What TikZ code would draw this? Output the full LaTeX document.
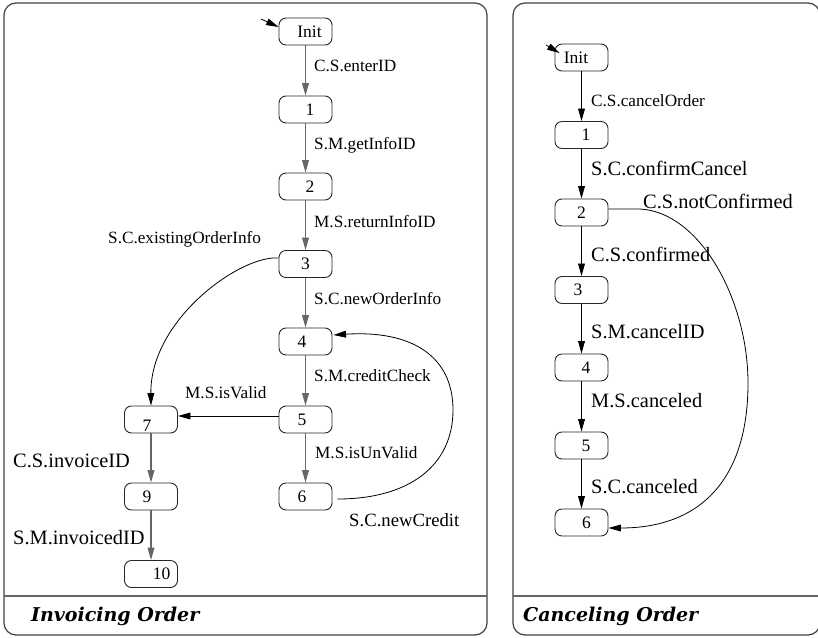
\documentclass[tikz,border=0pt]{standalone}
\usepackage{fontspec}
\setmainfont{Liberation Serif}
\newfontfamily\titlefont{DejaVu Serif}
\usetikzlibrary{arrows.meta,calc}
\newcommand\nt[3]{\makebox[0pt]{\hspace*{#1}\smash{\raisebox{#2}{#3}}}}
\begin{document}
\begin{tikzpicture}[x=1pt,y=-1pt,
  st/.style={draw=black!85, line width=0.9pt, rounded corners=7pt, minimum width=53pt, minimum height=27pt, inner sep=0pt, font=\fontsize{17.5}{18}\selectfont},
  panel/.style={draw=black!75, line width=1.2pt, rounded corners=12pt},
  divider/.style={draw=black!60, line width=1.2pt},
  lab/.style={anchor=base west, inner sep=0pt},
  fa/.style={font=\fontsize{17.2}{20}\selectfont},
  fb/.style={font=\fontsize{20.4}{24}\selectfont},
  fc/.style={font=\fontsize{18.7}{22}\selectfont},
  ttl/.style={anchor=base west, inner sep=0pt, font=\titlefont\bfseries\itshape\fontsize{19}{22}\selectfont},
  tip/.style={-{Triangle[length=12.5pt,width=6.8pt]}},
  garr/.style={tip, draw=black!60, line width=1.2pt},
  barr/.style={tip, draw=black, line width=0.8pt},
  curve/.style={tip, draw=black, line width=0.8pt}
]
\useasboundingbox (0,0) rectangle (818,637);
% panels
\draw[panel] (4,3) rectangle (487,635);
\draw[divider] (4,596) -- (487,596);
\draw[panel] (513,3) rectangle (820,635);
\draw[divider] (513,596) -- (820,596);
\node[ttl] (t1) at (31,621.7) {Invoicing Order};
\node[ttl] (t2) at (523,621.7) {Canceling Order};

% left graph nodes
\node[st] (Li) at (305.5,31.5) {\nt{8pt}{-5.7pt}{Init}};
\node[st] (L1) at (305.5,109.5) {\nt{9pt}{-5.7pt}{1}};
\node[st] (L2) at (305.5,186.5) {\nt{9pt}{-5.7pt}{2}};
\node[st] (L3) at (305.5,264) {\nt{0pt}{-5.7pt}{3}};
\node[st] (L4) at (305.5,341.5) {\nt{-7pt}{-5.7pt}{4}};
\node[st] (L5) at (305.5,419.5) {\nt{-7pt}{-5.7pt}{5}};
\node[st] (L6) at (305.5,496.5) {\nt{-7pt}{-5.7pt}{6}};
\node[st] (L7) at (151,419.5) {\nt{-8pt}{-11.7pt}{7}};
\node[st] (L9) at (151,496.5) {\nt{-8pt}{-5.7pt}{9}};
\node[st] (L10) at (151,574) {\nt{21pt}{-5.7pt}{10}};

\coordinate (Lin) at (261,19);
\draw[barr] (Lin) -- ($(Li.west)+(0,-4.5)$);
\draw[garr] (Li) -- (L1);
\draw[garr] (L1) -- (L2);
\draw[garr] (L2) -- (L3);
\draw[garr] (L3) -- (L4);
\draw[garr] (L4) -- (L5);
\draw[garr] (L5) -- (L6);
\draw[garr] (L7) -- (L9);
\draw[garr] (L9) -- (L10);
\draw[barr] ($(L5.west)+(0,-3.5)$) -- ($(L7.east)+(0,-3.5)$);
\draw[curve] ($(L3.west)+(0,-6)$) .. controls (240,255) and (150,320) .. (L7.north);
\draw[curve] ($(L6.east)+(5,2.5)$) .. controls (410,499) and (453,465) .. (453,410)
   .. controls (453,355) and (410,330) .. ($(L4.east)+(1,-6.5)$);

% left labels
\node[lab,fa] (a1) at (314,71.7) {C.S.enterID};
\node[lab,fa] (a2) at (314,149) {S.M.getInfoID};
\node[lab,fa] (a3) at (314,227) {M.S.returnInfoID};
\node[lab,fa] (a4) at (108,243) {S.C.existingOrderInfo};
\node[lab,fa] (a5) at (314,304) {S.C.newOrderInfo};
\node[lab,fa] (a6) at (314,381.5) {S.M.creditCheck};
\node[lab,fa] (a7) at (185,398) {M.S.isValid};
\node[lab,fa] (a8) at (315,458) {M.S.isUnValid};
\node[lab,fc] (a9) at (349,526.5) {S.C.newCredit};
\node[lab,fb] (a10) at (13,467) {C.S.invoiceID};
\node[lab,fb] (a11) at (13,544) {S.M.invoicedID};

% right graph nodes
\node[st] (Ri) at (581.5,57.5) {\nt{-11pt}{-5.7pt}{Init}};
\node[st] (R1) at (581.5,135) {\nt{9pt}{-5.7pt}{1}};
\node[st] (R2) at (581.5,212.5) {\nt{0pt}{-5.7pt}{2}};
\node[st] (R3) at (581.5,290) {\nt{-7pt}{-5.7pt}{3}};
\node[st] (R4) at (581.5,367.5) {\nt{9pt}{-5.7pt}{4}};
\node[st] (R5) at (581.5,445.5) {\nt{9pt}{-5.7pt}{5}};
\node[st] (R6) at (581.5,522.5) {\nt{10pt}{-5.7pt}{6}};

\coordinate (Rin) at (546,45);
\draw[barr] (Rin) -- ($(Ri.west)+(5,-4.5)$);
\draw[barr] (Ri) -- (R1);
\draw[barr] (R1) -- (R2);
\draw[barr] (R2) -- (R3);
\draw[barr] (R3) -- (R4);
\draw[barr] (R4) -- (R5);
\draw[barr] (R5) -- (R6);
\draw[curve] ($(R2.east)+(0,-3.5)$) -- (640,209) .. controls (700,212) and (748,300) .. (748,383)
   .. controls (748,480) and (700,528) .. ($(R6.east)+(0,5.5)$);

% right labels
\node[lab,fa] (b1) at (591,106) {C.S.cancelOrder};
\node[lab,fb] (b2) at (591,175.5) {S.C.confirmCancel};
\node[lab,fb] (b3) at (643,208) {C.S.notConfirmed};
\node[lab,fb] (b4) at (591,261.5) {C.S.confirmed};
\node[lab,fb] (b5) at (591,338) {S.M.cancelID};
\node[lab,fb] (b6) at (591,407) {M.S.canceled};
\node[lab,fb] (b7) at (591,493) {S.C.canceled};
\end{tikzpicture}
\end{document}
